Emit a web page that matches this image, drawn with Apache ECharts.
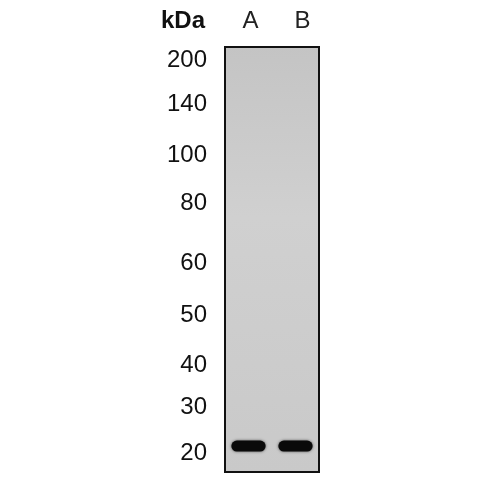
<!DOCTYPE html>
<html>
<head>
<meta charset="utf-8">
<script src="https://cdn.jsdelivr.net/npm/echarts@6/dist/echarts.min.js"></script>
<style>html,body{margin:0;padding:0;background:#fff}#c{width:500px;height:500px}</style>
</head>
<body>
<div id="c"></div>
<script>
// Lanes
const lanes = ['A', 'B'];
// Molecular weight markers (kDa) and their relative migration (0 = top of gel, 100 = bottom)
const markerKDa = ['200', '140', '100', '80', '60', '50', '40', '30', '20'];
const markerPos = [3.1, 13.6, 25.4, 36.7, 50.8, 63.1, 74.8, 84.9, 95.5];
// Detected bands: relative migration per lane
const bandPos = [93.9, 93.9];
const bandIntensity = [1, 1];

const chart = echarts.init(document.getElementById('c'));
const font = 'Liberation Sans, Arial, sans-serif';

chart.setOption({
  animation: false,
  backgroundColor: '#ffffff',
  title: {
    text: 'kDa',
    left: 156,
    top: 4,
    textStyle: { fontFamily: font, fontSize: 24, fontWeight: 'bold', color: '#111' }
  },
  grid: {
    left: 225, right: 181, top: 47, bottom: 28,
    show: true,
    borderColor: '#111',
    borderWidth: 2,
    backgroundColor: new echarts.graphic.LinearGradient(0, 0, 0, 1, [
      { offset: 0, color: '#c4c4c4' },
      { offset: 0.4, color: '#d0d0d0' },
      { offset: 1, color: '#c9c9c9' }
    ])
  },
  xAxis: {
    type: 'category',
    data: lanes,
    position: 'top',
    axisLine: { show: false },
    axisTick: { show: false },
    splitLine: { show: false },
    axisLabel: {
      interval: 0,
      hideOverlap: false,
      fontFamily: font, fontSize: 24, color: '#222', margin: 14,
      formatter: function (v) { return '{' + v + '|' + v + '}'; },
      rich: {
        A: { fontFamily: font, fontSize: 24, color: '#222', padding: [0, 0, 0, 4] },
        B: { fontFamily: font, fontSize: 24, color: '#222', padding: [0, 0, 0, 14] }
      }
    }
  },
  yAxis: {
    type: 'value',
    inverse: true,
    min: 0,
    max: 100,
    axisLine: { show: false },
    axisTick: { show: false },
    splitLine: { show: false },
    axisLabel: {
      customValues: markerPos,
      fontFamily: font,
      fontSize: 24,
      color: '#111',
      margin: 18,
      formatter: function (v) {
        const i = markerPos.indexOf(v);
        return i >= 0 ? markerKDa[i] : '';
      }
    }
  },
  series: [{
    type: 'custom',
    data: lanes.map((l, i) => [i, bandPos[i], bandIntensity[i]]),
    renderItem: function (params, api) {
      const c = api.coord([api.value(0), api.value(1)]);
      const w = api.size([1, 0])[0] * 0.73;
      const h = 11;
      return {
        type: 'rect',
        shape: { x: c[0] - w / 2, y: c[1] - h / 2, width: w, height: h, r: 5.5 },
        style: {
          fill: 'rgba(10,10,10,' + api.value(2) + ')',
          shadowBlur: 3,
          shadowColor: 'rgba(0,0,0,0.6)'
        }
      };
    }
  }]
});
</script>
</body>
</html>
